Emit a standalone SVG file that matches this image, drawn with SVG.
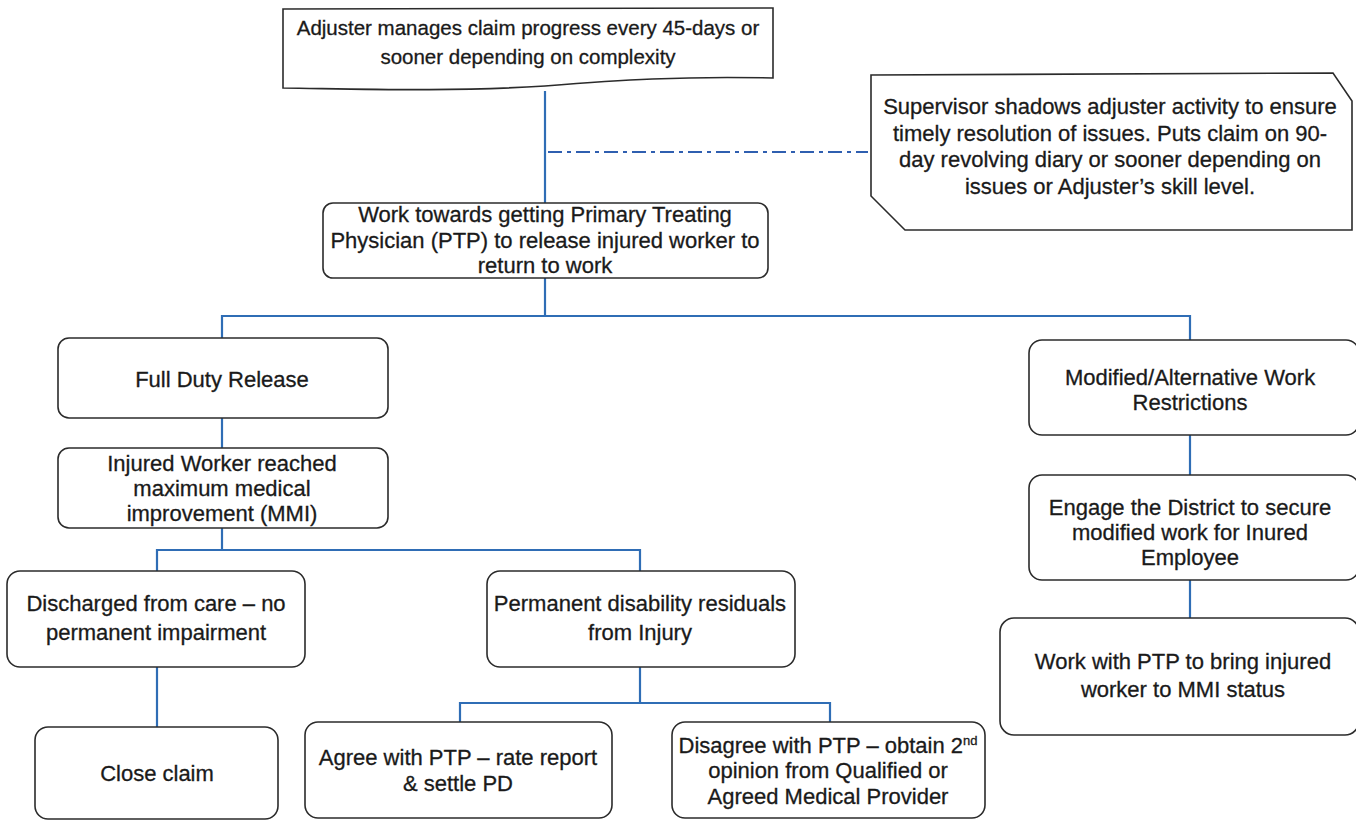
<svg xmlns="http://www.w3.org/2000/svg" width="1356" height="820" viewBox="0 0 1356 820">
<style>
.box{fill:#fff;stroke:#2b2b2b;stroke-width:1.6}
.t{font-family:"Liberation Sans",Arial,sans-serif;font-size:22px;fill:#1a1a1a;stroke:#1a1a1a;stroke-width:0.3;text-anchor:middle}
.s{font-size:20.5px}
.c{fill:none;stroke:#2f6db5;stroke-width:2.2}
.dd{fill:none;stroke:#2f5fb0;stroke-width:2;stroke-dasharray:14 5 4 5}
</style>
<rect width="1356" height="820" fill="#fff"/>
<g id="connectors">
<line class="c" x1="545" y1="91" x2="545" y2="203"/>
<line class="dd" x1="548" y1="152" x2="868" y2="152"/>
<polyline class="c" points="545,278 545,316"/>
<polyline class="c" points="222,338 222,316 1190,316 1190,340"/>
<line class="c" x1="222" y1="418" x2="222" y2="448"/>
<line class="c" x1="222" y1="528" x2="222" y2="550"/>
<polyline class="c" points="157,571 157,550 640,550 640,571"/>
<line class="c" x1="157" y1="667" x2="157" y2="727"/>
<line class="c" x1="640" y1="667" x2="640" y2="703"/>
<polyline class="c" points="460,722 460,703 830,703 830,722"/>
<line class="c" x1="1190" y1="435" x2="1190" y2="475"/>
<line class="c" x1="1190" y1="580" x2="1190" y2="618"/>
</g>
<g id="n-adjuster">
<path class="box" d="M283,9 L773,8 L773,78 C680,76 620,80 545,86 C450,92 360,89 283,88 Z"/>
<text class="t s" x="528" y="35">Adjuster manages claim progress every 45-days or</text>
<text class="t s" x="528" y="64">sooner depending on complexity</text>
</g>
<g id="n-supervisor">
<path class="box" d="M871,75 L1333,73 L1352,101 L1352,230 L905,230 L871,196 Z"/>
<text class="t" x="1110" y="114">Supervisor shadows adjuster activity to ensure</text>
<text class="t" x="1110" y="141">timely resolution of issues. Puts claim on 90-</text>
<text class="t" x="1110" y="167">day revolving diary or sooner depending on</text>
<text class="t" x="1110" y="194">issues or Adjuster’s skill level.</text>
</g>
<g id="n-ptp">
<rect class="box" x="323" y="203" width="445" height="75" rx="10"/>
<text class="t" x="545" y="222">Work towards getting Primary Treating</text>
<text class="t" x="545" y="248">Physician (PTP) to release injured worker to</text>
<text class="t" x="545" y="273">return to work</text>
</g>
<g id="n-fullduty">
<rect class="box" x="58" y="338" width="330" height="80" rx="11"/>
<text class="t" x="222" y="387">Full Duty Release</text>
</g>
<g id="n-mmi">
<rect class="box" x="58" y="448" width="330" height="80" rx="11"/>
<text class="t" x="222" y="471">Injured Worker reached</text>
<text class="t" x="222" y="496">maximum medical</text>
<text class="t" x="222" y="521">improvement (MMI)</text>
</g>
<g id="n-discharged">
<rect class="box" x="7" y="571" width="298" height="96" rx="13"/>
<text class="t" x="156" y="611">Discharged from care – no</text>
<text class="t" x="156" y="640">permanent impairment</text>
</g>
<g id="n-permanent">
<rect class="box" x="487" y="571" width="308" height="96" rx="13"/>
<text class="t" x="640" y="611">Permanent disability residuals</text>
<text class="t" x="640" y="640">from Injury</text>
</g>
<g id="n-close">
<rect class="box" x="35" y="727" width="243" height="92" rx="13"/>
<text class="t" x="157" y="781">Close claim</text>
</g>
<g id="n-agree">
<rect class="box" x="305" y="722" width="307" height="96" rx="13"/>
<text class="t" x="458" y="765">Agree with PTP – rate report</text>
<text class="t" x="458" y="791">&amp; settle PD</text>
</g>
<g id="n-disagree">
<rect class="box" x="672" y="722" width="313" height="96" rx="13"/>
<text class="t" x="828" y="753">Disagree with PTP – obtain 2<tspan font-size="13" dy="-8">nd</tspan></text>
<text class="t" x="828" y="778">opinion from Qualified or</text>
<text class="t" x="828" y="804">Agreed Medical Provider</text>
</g>
<g id="n-modified">
<rect class="box" x="1029" y="340" width="330" height="95" rx="13"/>
<text class="t" x="1190" y="385">Modified/Alternative Work</text>
<text class="t" x="1190" y="410">Restrictions</text>
</g>
<g id="n-engage">
<rect class="box" x="1029" y="475" width="330" height="105" rx="13"/>
<text class="t" x="1190" y="515">Engage the District to secure</text>
<text class="t" x="1190" y="540">modified work for Inured</text>
<text class="t" x="1190" y="565">Employee</text>
</g>
<g id="n-mmistatus">
<rect class="box" x="1000" y="618" width="359" height="117" rx="14"/>
<text class="t" x="1183" y="669">Work with PTP to bring injured</text>
<text class="t" x="1183" y="697">worker to MMI status</text>
</g>
</svg>
